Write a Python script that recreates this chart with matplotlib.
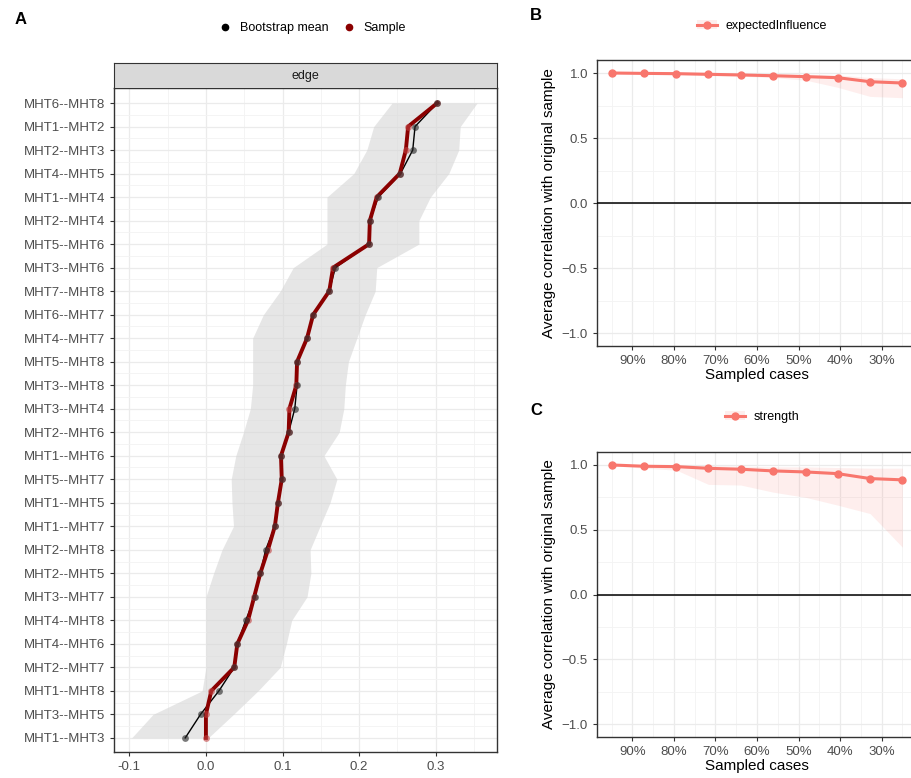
import matplotlib
matplotlib.use("Agg")
import matplotlib.pyplot as plt
from matplotlib.lines import Line2D
from matplotlib.patches import Patch
from matplotlib.ticker import MultipleLocator, FixedLocator

plt.rcParams['font.family'] = ['Liberation Sans', 'DejaVu Sans']

# ---- panel A: edge weights ----
edges = ["MHT6--MHT8", "MHT1--MHT2", "MHT2--MHT3", "MHT4--MHT5", "MHT1--MHT4",
         "MHT2--MHT4", "MHT5--MHT6", "MHT3--MHT6", "MHT7--MHT8", "MHT6--MHT7",
         "MHT4--MHT7", "MHT5--MHT8", "MHT3--MHT8", "MHT3--MHT4", "MHT2--MHT6",
         "MHT1--MHT6", "MHT5--MHT7", "MHT1--MHT5", "MHT1--MHT7", "MHT2--MHT8",
         "MHT2--MHT5", "MHT3--MHT7", "MHT4--MHT8", "MHT4--MHT6", "MHT2--MHT7",
         "MHT1--MHT8", "MHT3--MHT5", "MHT1--MHT3"]
sample = [0.302, 0.264, 0.261, 0.253, 0.223, 0.214, 0.213, 0.166, 0.161, 0.140,
          0.132, 0.119, 0.118, 0.109, 0.108, 0.098, 0.099, 0.094, 0.090, 0.081,
          0.071, 0.063, 0.055, 0.041, 0.037, 0.007, 0.000, 0.000]
boot_mean = [0.302, 0.273, 0.270, 0.254, 0.225, 0.214, 0.213, 0.169, 0.161, 0.140,
             0.132, 0.119, 0.119, 0.116, 0.108, 0.098, 0.099, 0.094, 0.090, 0.078,
             0.071, 0.064, 0.052, 0.041, 0.037, 0.017, -0.007, -0.027]
ci_low = [0.243, 0.219, 0.210, 0.193, 0.158, 0.158, 0.158, 0.114, 0.097, 0.075,
          0.061, 0.061, 0.061, 0.058, 0.049, 0.039, 0.033, 0.034, 0.036, 0.021,
          0.010, 0.000, 0.000, 0.000, 0.000, -0.005, -0.069, -0.097]
ci_high = [0.354, 0.332, 0.330, 0.317, 0.293, 0.278, 0.278, 0.223, 0.221, 0.208,
           0.197, 0.186, 0.182, 0.180, 0.174, 0.154, 0.171, 0.162, 0.149, 0.136,
           0.137, 0.132, 0.112, 0.105, 0.097, 0.068, 0.036, 0.003]

# ---- panels B and C: case-dropping stability ----
sampled = [0.95, 0.872, 0.794, 0.717, 0.639, 0.561, 0.483, 0.406, 0.328, 0.25]
ei_mean = [1.0, 0.997, 0.995, 0.99, 0.985, 0.979, 0.972, 0.964, 0.933, 0.923]
ei_low = [0.995, 0.99, 0.985, 0.98, 0.975, 0.965, 0.945, 0.89, 0.82, 0.81]
ei_high = [1.0, 1.0, 1.0, 1.0, 0.995, 0.99, 0.99, 0.985, 0.965, 0.955]
st_mean = [1.0, 0.99, 0.987, 0.974, 0.967, 0.954, 0.946, 0.933, 0.895, 0.885]
st_low = [0.995, 0.975, 0.96, 0.85, 0.845, 0.79, 0.75, 0.69, 0.625, 0.365]
st_high = [1.0, 1.0, 1.0, 0.995, 0.99, 0.985, 0.985, 0.98, 0.975, 0.975]
pct_ticks = [0.9, 0.8, 0.7, 0.6, 0.5, 0.4, 0.3]
pct_labels = ["90%", "80%", "70%", "60%", "50%", "40%", "30%"]

W, H = 912, 778
fig = plt.figure(figsize=(W / 100, H / 100), dpi=100)
TICK_C = "#4D4D4D"
GRID_C = "#EBEBEB"
SALMON = "#F8766D"


def px_axes(x0, y0, x1, y1):
    return fig.add_axes([x0 / W, 1 - y1 / H, (x1 - x0) / W, (y1 - y0) / H])


def style_bw(ax):
    ax.set_facecolor("white")
    for s in ax.spines.values():
        s.set_color("#333333")
        s.set_linewidth(1.0)
    ax.tick_params(colors="#333333", labelcolor=TICK_C, length=3, width=0.8, labelsize=9)
    ax.tick_params(which="minor", length=0)
    ax.grid(True, which="major", color=GRID_C, lw=0.9)
    ax.grid(True, which="minor", color="#F3F3F3", lw=0.6)
    ax.set_axisbelow(True)


# panel A
axA = px_axes(114, 88, 497, 752)
style_bw(axA)
rows = list(range(len(edges)))
axA.fill_betweenx(rows, ci_low, ci_high, color="#D6D6D6", alpha=0.6, lw=0)
axA.plot(boot_mean, rows, color="black", lw=1.0, zorder=3)
axA.plot(sample, rows, color="#8B0000", lw=2.8, zorder=4)
axA.scatter(sample, rows, s=24, color="#C04040", alpha=0.6, zorder=5, lw=0)
axA.scatter(boot_mean, rows, s=24, color="#222222", alpha=0.6, zorder=6, lw=0)
axA.set_xlim(-0.12, 0.38)
axA.set_ylim(27.6, -0.64)
axA.set_yticks(rows)
axA.set_yticklabels(edges, fontsize=9.5)
axA.yaxis.set_minor_locator(FixedLocator([r + 0.5 for r in rows[:-1]]))
axA.xaxis.set_major_locator(FixedLocator([-0.1, 0.0, 0.1, 0.2, 0.3]))
axA.set_xticklabels(["-0.1", "0.0", "0.1", "0.2", "0.3"], fontsize=9.5)
axA.xaxis.set_minor_locator(FixedLocator([-0.05, 0.05, 0.15, 0.25, 0.35]))

strip = px_axes(114, 63, 497, 88)
strip.set_facecolor("#D9D9D9")
strip.set_xticks([])
strip.set_yticks([])
for s in strip.spines.values():
    s.set_color("#333333")
strip.spines["bottom"].set_visible(False)
strip.text(0.5, 0.5, "edge", ha="center", va="center", fontsize=9, color="#1A1A1A",
           transform=strip.transAxes)

legA = [Line2D([], [], ls="", marker="o", ms=4.5, color="black", label="Bootstrap mean"),
        Line2D([], [], ls="", marker="o", ms=4.5, color="#8B0000", label="Sample")]
fig.legend(handles=legA, loc="center", bbox_to_anchor=(312 / W, 1 - 28 / H), ncol=2,
           frameon=False, fontsize=9, handletextpad=0.6, columnspacing=1.0, handlelength=1.2)


def stability(ax, mean, low, high, label, leg_y):
    style_bw(ax)
    ax.fill_between(sampled, low, high, color=SALMON, alpha=0.12, lw=0)
    ax.plot(sampled, mean, color=SALMON, lw=2.2, marker="o", ms=5, zorder=4)
    ax.axhline(0, color="black", lw=1.1, zorder=3)
    ax.set_xlim(0.985, 0.215)
    ax.set_ylim(-1.1, 1.1)
    ax.xaxis.set_major_locator(FixedLocator(pct_ticks))
    ax.set_xticklabels(pct_labels, fontsize=9.5)
    ax.xaxis.set_minor_locator(FixedLocator([0.95, 0.85, 0.75, 0.65, 0.55, 0.45, 0.35, 0.25]))
    ax.yaxis.set_major_locator(MultipleLocator(0.5))
    ax.yaxis.set_minor_locator(MultipleLocator(0.25))
    ax.set_yticks([-1.0, -0.5, 0.0, 0.5, 1.0])
    ax.set_yticklabels(["\u22121.0", "\u22120.5", "0.0", "0.5", "1.0"], fontsize=9.5)
    ax.set_xlabel("Sampled cases", fontsize=11, labelpad=1)
    ax.set_ylabel("Average correlation with original sample", fontsize=11, labelpad=4)
    h = (Patch(facecolor=SALMON, alpha=0.12, lw=0),
         Line2D([], [], color=SALMON, lw=2.2, marker="o", ms=5))
    fig.legend(handles=[h], labels=[label], loc="center", bbox_to_anchor=(762 / W, leg_y),
               frameon=False, fontsize=9, handlelength=1.6, handletextpad=0.7)


axB = px_axes(597, 60, 917, 346)
stability(axB, ei_mean, ei_low, ei_high, "expectedInfluence", 1 - 26 / H)
axC = px_axes(597, 452, 917, 737)
stability(axC, st_mean, st_low, st_high, "strength", 1 - 417 / H)

fig.text(15 / W, 1 - 20 / H, "A", fontsize=12, fontweight="bold", ha="left", va="center")
fig.text(530 / W, 1 - 16 / H, "B", fontsize=12, fontweight="bold", ha="left", va="center")
fig.text(530 / W, 1 - 411 / H, "C", fontsize=12, fontweight="bold", ha="left", va="center")

fig.savefig("out.png", dpi=100)
